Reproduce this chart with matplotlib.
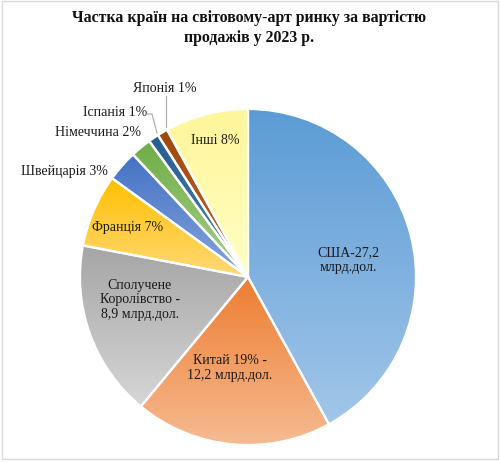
import numpy as np
import matplotlib
matplotlib.use("Agg")
import matplotlib.pyplot as plt
from matplotlib.colors import to_rgb
from matplotlib.patches import Rectangle

# ---- data ----
countries = ["США", "Китай", "Сполучене Королівство", "Франція", "Швейцарія",
             "Німеччина", "Іспанія", "Японія", "Інші"]
shares = [42, 19, 17, 7, 3, 2, 1, 1, 8]
labels = ["США-27,2\nмлрд.дол.", "Китай 19% -\n12,2 млрд.дол.",
          "Сполучене\nКоролівство -\n8,9 млрд.дол.", "Франція 7%", "Швейцарія 3%",
          "Німеччина 2%", "Іспанія 1%", "Японія 1%", "Інші 8%"]
title = "Частка країн на світовому-арт ринку за вартістю\nпродажів у 2023 р."

top_colors = ["#5b9bd5", "#ed7d31", "#a5a5a5", "#ffc000", "#4472c4",
              "#70ad47", "#255e91", "#9e480e", "#fff59a"]
bot_colors = ["#a2c6e9", "#f6bb92", "#d6d6d6", "#ffd978", "#86a5dc",
              "#a8d08d", "#4f82b8", "#c0652c", "#ffffc4"]

plt.rcParams['font.family'] = ['Liberation Serif', 'DejaVu Serif']

fig = plt.figure(figsize=(5.0, 4.62), dpi=100)
ax = fig.add_axes([0, 0, 1, 1])

H = 462
cx, cy, R = 248, H - 277, 168

wedges, _ = ax.pie(shares, startangle=90, counterclock=False,
                   center=(cx, cy), radius=R, colors=top_colors,
                   wedgeprops=dict(edgecolor="white", linewidth=1.6))

for w, ct, cb in zip(wedges, top_colors, bot_colors):
    ext = w.get_path().get_extents()
    c1 = np.array(to_rgb(ct)); c2 = np.array(to_rgb(cb))
    t = np.linspace(0, 1, 256)[:, None, None]
    grad = c1 * (1 - t) + c2 * t
    im = ax.imshow(grad, extent=[ext.x0, ext.x1, ext.y0, ext.y1],
                   origin="upper", aspect="auto", zorder=1, interpolation="bilinear")
    im.set_clip_path(w)
    w.set_facecolor("none")
    w.set_zorder(2)

tc = "#1a1a1a"
fs = 10
# label positions in pixel coords (x, y from top)
pos = [(348, 260), (230, 368), (140, 300), (128, 227), (64, 171),
       (98, 133), (115, 113), (165, 88), (215, 141)]
for lab, (x, y) in zip(labels, pos):
    ax.text(x, H - y, lab, ha="center", va="center", fontsize=fs, color=tc,
            linespacing=1.15, zorder=5)

# leader lines
ax.plot([146, 152, 157], [H - 114, H - 114, H - 133], color="#a6a6a6", lw=0.8, zorder=5)
ax.plot([166, 166], [H - 96, H - 127], color="#a6a6a6", lw=0.8, zorder=5)

ax.text(249, H - 28, title, ha="center", va="center", fontsize=11.4,
        fontweight="bold", color="#111111", linespacing=1.25)

ax.add_patch(Rectangle((2, 3), 496, 458, fill=False, edgecolor="#d9d9d9", lw=1.0, zorder=6))

ax.set_xlim(0, 500)
ax.set_ylim(0, H)
ax.set_aspect("auto")
ax.axis("off")

fig.savefig("out.png", dpi=100)
